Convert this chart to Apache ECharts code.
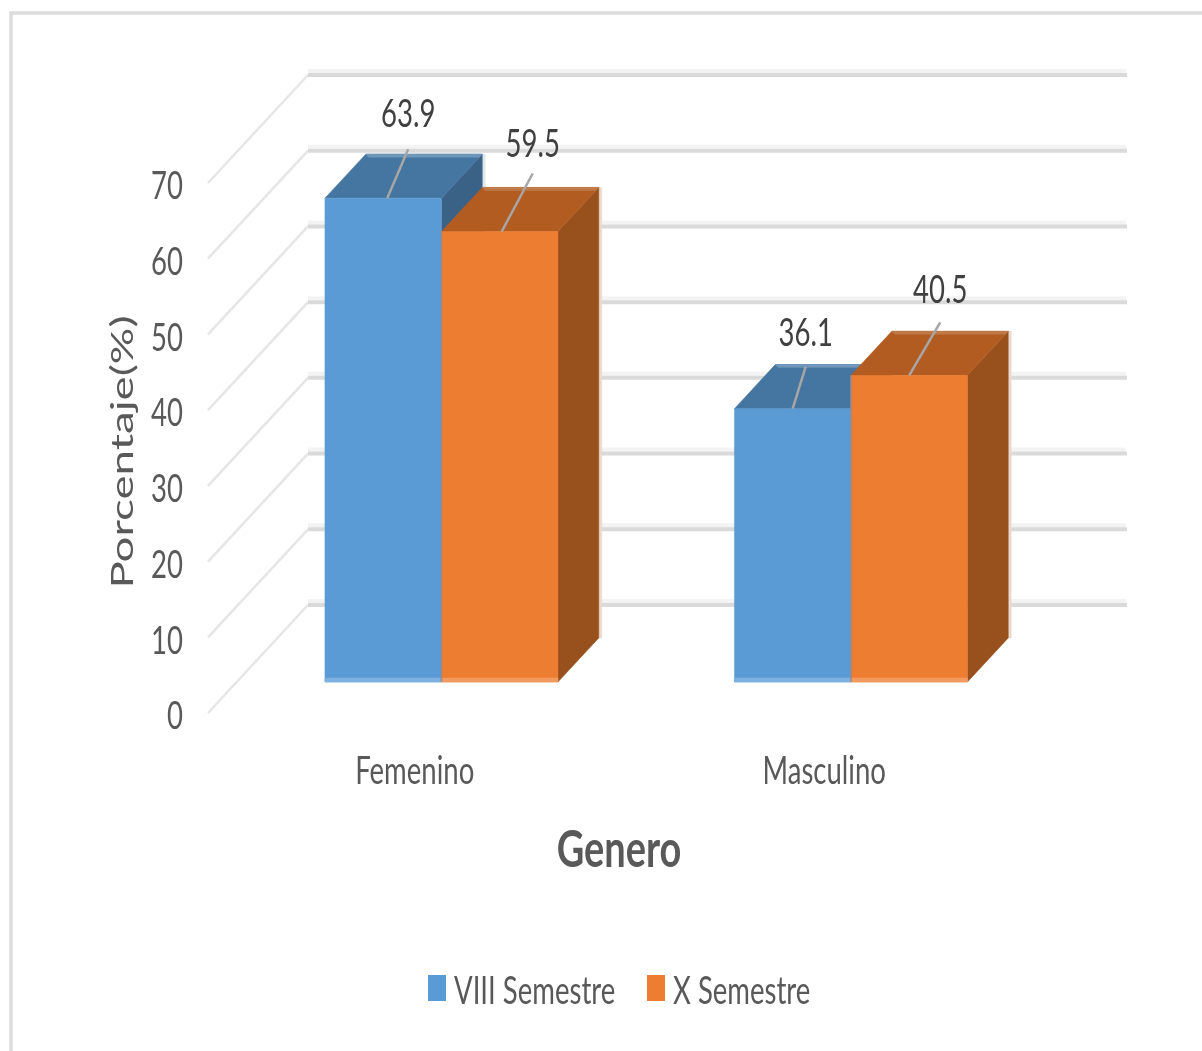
<!DOCTYPE html>
<html>
<head>
<meta charset="utf-8">
<style>html,body{margin:0;padding:0;background:#fff}#chart{width:1202px;height:1051px}</style>
<script src="https://cdn.jsdelivr.net/npm/echarts@6/dist/echarts.min.js"></script>
</head>
<body>
<div id="chart"></div>
<script>
// Survey results by gender and semester
const categories = ['Femenino', 'Masculino'];
const seriesNames = ['VIII Semestre', 'X Semestre'];
const viiiValues = [63.9, 36.1];
const xValues = [59.5, 40.5];
const yTicks = [0, 10, 20, 30, 40, 50, 60, 70];

// Oblique projection of the floor: pixels moved going from front edge to back wall
const DEPTH_X = 100, DEPTH_Y = -108;
const BAR_FRONT = 0.287, BAR_BACK = 0.695;
const BAR_WIDTH = 116.5;

// Tall, condensed lettering: a large face squeezed horizontally
const FONT = 'Lato, "Open Sans", sans-serif';
const TEXT_SIZE = 38, TEXT_SQUEEZE = 0.725;

// Leader-line end relative to the centre of the bar's front top edge, per series then category
const leaderEnds = [[[25, -49], [13, -42]], [[33, -58], [31, -53]]];
const leaderStarts = [[[4, 0], [0, 0]], [[2, 0], [0, 0]]];
const labelRise = [[34, 33], [29, 32]];

const project = (pt, d) => [pt[0] + DEPTH_X * d, pt[1] + DEPTH_Y * d];
const poly = (points, fill, z2) => ({
  type: 'polygon', z2,
  shape: { points },
  style: { fill, stroke: fill, lineWidth: 0.5 }
});

function squeezedText(text, x, y, fill, align, z2) {
  return {
    type: 'text', x, y, z2: z2 || 5,
    scaleX: TEXT_SQUEEZE, scaleY: 1,
    style: { x: 0, y: 0, text, align: align || 'center', verticalAlign: 'middle',
             fill, font: TEXT_SIZE + 'px ' + FONT }
  };
}

function renderBar(seriesIndex, colors, params, api) {
  const cat = api.value(0);
  const value = api.value(1);
  const center = api.coord([cat, value]);
  const base = api.coord([cat, 0]);
  const x0 = center[0] + (seriesIndex === 0 ? -BAR_WIDTH : 0);
  const x1 = x0 + BAR_WIDTH;
  const fl = project([x0, center[1]], BAR_FRONT), fr = project([x1, center[1]], BAR_FRONT);
  const bl = project([x0, center[1]], BAR_BACK), br = project([x1, center[1]], BAR_BACK);
  const fbl = project([x0, base[1]], BAR_FRONT), fbr = project([x1, base[1]], BAR_FRONT);
  const bbr = project([x1, base[1]], BAR_BACK);
  const mid = [(fl[0] + fr[0]) / 2, fl[1]];
  const s = leaderStarts[seriesIndex][cat], e = leaderEnds[seriesIndex][cat];
  const end = [mid[0] + e[0], mid[1] + e[1]];
  const children = [
    // soft pale rim along the far edges
    poly([[br[0], br[1]], [br[0] + 3, br[1]], [bbr[0] + 3, bbr[1]], [bbr[0], bbr[1]]], colors.rim, 0),
    poly([fr, br, bbr, fbr], colors.side, 1),
    poly([fl, bl, br, fr], colors.top, 2),
    poly([bl, br, [br[0] - 3, br[1] + 3], [bl[0] + 3, bl[1] + 3]], colors.topEdge, 2),
    poly([fl, fr, fbr, fbl], colors.front, 3),
    poly([[fbl[0], fbl[1] - 4], [fbr[0], fbr[1] - 4], fbr, fbl], colors.foot, 3),
    { type: 'line', z2: 4,
      shape: { x1: mid[0] + s[0], y1: mid[1] + s[1], x2: end[0], y2: end[1] },
      style: { stroke: '#a6a6a6', lineWidth: 2.5 } },
    squeezedText(value.toFixed(1), end[0], end[1] - labelRise[seriesIndex][cat], '#404040')
  ];
  if (seriesIndex === 1) {
    // faint seam where the two bars of a cluster touch
    children.push({ type: 'line', z2: 3,
      shape: { x1: fl[0], y1: fl[1], x2: fbl[0], y2: fbl[1] },
      style: { stroke: 'rgba(140,140,150,0.7)', lineWidth: 2 } });
  }
  return { type: 'group', children };
}

// Back wall lines, diagonal side-wall lines and the tick label for each value tick
function renderWall(params, api) {
  const rect = params.coordSys;
  const value = api.value(0);
  const y = api.coord([0, value])[1];
  const start = [rect.x, y];
  const corner = project(start, 1);
  return {
    type: 'group',
    children: [
      { type: 'line', shape: { x1: start[0], y1: start[1], x2: corner[0], y2: corner[1] },
        style: { stroke: '#e6e6e6', lineWidth: 2.5 } },
      { type: 'line', shape: { x1: corner[0], y1: corner[1] - 4, x2: corner[0] + rect.width - 1, y2: corner[1] - 4 },
        style: { stroke: '#f3f3f3', lineWidth: 4 } },
      { type: 'line', shape: { x1: corner[0], y1: corner[1], x2: corner[0] + rect.width, y2: corner[1] },
        style: { stroke: '#dadada', lineWidth: 4 } },
      squeezedText(String(value), rect.x - 25, y + 4, '#595959', 'right')
    ]
  };
}

function renderCategory(params, api) {
  const i = api.value(0);
  const p = api.coord([i, 0]);
  return squeezedText(categories[i], p[0] + 2, p[1] + 59, '#595959');
}

const chart = echarts.init(document.getElementById('chart'), null, { renderer: 'canvas' });
chart.setOption({
  animation: false,
  backgroundColor: '#fff',
  graphic: [
    { type: 'polyline', shape: { points: [[11, 1051], [11, 13], [1202, 13]] },
      style: { stroke: '#dcdcdc', lineWidth: 3.5, fill: null } },
    { type: 'text', x: 123, y: 452, rotation: Math.PI / 2, scaleX: 1.2, scaleY: 0.8,
      style: { x: 0, y: 0, text: 'Porcentaje(%)', align: 'center', verticalAlign: 'middle',
               fill: '#595959', font: '38px ' + FONT } },
    { type: 'text', x: 619, y: 850, scaleX: 0.73, scaleY: 1,
      style: { x: 0, y: 0, text: 'Genero', align: 'center', verticalAlign: 'middle',
               fill: '#595959', font: 'bold 52px ' + FONT } },
    { type: 'rect', shape: { x: 428, y: 975, width: 18, height: 26 }, style: { fill: '#5b9bd5' } },
    squeezedText(seriesNames[0], 454, 992, '#595959', 'left'),
    { type: 'rect', shape: { x: 647, y: 975, width: 18, height: 26 }, style: { fill: '#ed7d31' } },
    squeezedText(seriesNames[1], 673, 992, '#595959', 'left')
  ],
  grid: { left: 208, top: 183, width: 819, height: 530 },
  xAxis: {
    type: 'category', data: categories,
    axisLine: { show: false }, axisTick: { show: false }, axisLabel: { show: false }
  },
  yAxis: {
    type: 'value', min: 0, max: 70, interval: 10,
    axisLine: { show: false }, axisTick: { show: false }, splitLine: { show: false }, axisLabel: { show: false }
  },
  series: [
    { type: 'custom', name: 'wall', silent: true, z: 1, renderItem: renderWall,
      encode: { y: 0 }, data: yTicks.map(v => [v]), clip: false },
    { type: 'custom', name: 'category', silent: true, z: 1, renderItem: renderCategory,
      encode: { x: 0 }, data: categories.map((c, i) => [i]), clip: false },
    { type: 'custom', name: seriesNames[0], z: 2, clip: false,
      itemStyle: { color: '#5b9bd5' },
      renderItem: (p, a) => renderBar(0, { front: '#5b9bd5', top: '#4575a1', side: '#3a6186', rim: '#dfe6ee', topEdge: '#6f97ba', foot: '#7cb1e2' }, p, a),
      encode: { x: 0, y: 1 },
      data: viiiValues.map((v, i) => [i, v]) },
    { type: 'custom', name: seriesNames[1], z: 3, clip: false,
      itemStyle: { color: '#ed7d31' },
      renderItem: (p, a) => renderBar(1, { front: '#ed7d31', top: '#b35c22', side: '#98501c', rim: '#ead9cd', topEdge: '#bf7a49', foot: '#f29b60' }, p, a),
      encode: { x: 0, y: 1 },
      data: xValues.map((v, i) => [i, v]) }
  ]
});
</script>
</body>
</html>
